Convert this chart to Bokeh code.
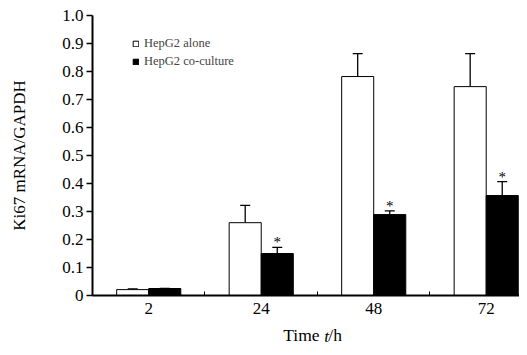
import numpy as np
from bokeh.plotting import figure
from bokeh.models import (ColumnDataSource, Whisker, TeeHead, FixedTicker, Range1d,
                          Label, Legend, LegendItem)
from bokeh.core.properties import value
from bokeh.embed import file_html
from bokeh.resources import INLINE

categories = ["2", "24", "48", "72"]
alone = [0.021, 0.26, 0.782, 0.746]
alone_err = [0.003, 0.062, 0.082, 0.118]
cocult = [0.025, 0.15, 0.289, 0.357]
cocult_err = [0.0, 0.022, 0.013, 0.05]
significant = [False, True, True, True]
y_ticks = [0, 0.1, 0.2, 0.3, 0.4, 0.5, 0.6, 0.7, 0.8, 0.9, 1.0]
y_tick_labels = ["0", "0.1", "0.2", "0.3", "0.4", "0.5", "0.6", "0.7", "0.8", "0.9", "1.0"]
x_title_left = "Time"
x_title_italic = "t"
x_title_right = "/h"

FONT = "Liberation Serif"
NB = "\u00a0"
bw = 0.285
centers = np.arange(len(categories)) + 0.5
x_a = centers - bw / 2
x_c = centers + bw / 2

src_a = ColumnDataSource(dict(x=x_a, top=alone, up=np.array(alone) + np.array(alone_err)))
src_c = ColumnDataSource(dict(x=x_c, top=cocult, up=np.array(cocult) + np.array(cocult_err)))
star_idx = [i for i, s in enumerate(significant) if s]
src_s = ColumnDataSource(dict(x=x_c[star_idx], y=(np.array(cocult) + np.array(cocult_err))[star_idx],
                              t=["*"] * len(star_idx)))

p = figure(width=519, height=347, output_backend="svg", toolbar_location=None,
           x_range=Range1d(0, 3.796), y_range=Range1d(0, 1.0),
           min_border_left=92, min_border_right=0, min_border_top=15, min_border_bottom=52)
p.outline_line_color = None
p.grid.visible = False

wa = Whisker(source=src_a, base="x", upper="up", lower="top", dimension="height",
             line_color="black", line_width=1.3,
             upper_head=TeeHead(size=10, line_color="black", line_width=1.3), lower_head=None)
wc = Whisker(source=src_c, base="x", upper="up", lower="top", dimension="height",
             line_color="black", line_width=1.3,
             upper_head=TeeHead(size=10, line_color="black", line_width=1.3), lower_head=None)
p.add_layout(wa)
p.add_layout(wc)

ra = p.vbar(x="x", top="top", width=bw, bottom=0, source=src_a, fill_color="white",
            line_color="black", line_width=1)
rc = p.vbar(x="x", top="top", width=bw, bottom=0, source=src_c, fill_color="black",
            line_color="black", line_width=1)

p.text(x="x", y="y", text="t", source=src_s, text_align="center", text_baseline="bottom",
       y_offset=3, text_font=value(FONT), text_font_size="15px", text_color="black")

# x axis
p.xaxis.ticker = FixedTicker(ticks=list(centers), minor_ticks=[1, 2, 3])
p.xaxis.major_label_overrides = {float(c): lab for c, lab in zip(centers, categories)}
p.xaxis.major_tick_in = 0
p.xaxis.major_tick_out = 0
p.xaxis.minor_tick_in = 4
p.xaxis.minor_tick_out = 0
p.xaxis.minor_tick_line_color = "black"
p.xaxis.axis_line_width = 2
p.xaxis.axis_line_color = "black"
p.xaxis.major_label_standoff = 7
p.xaxis.major_label_text_font = FONT
p.xaxis.major_label_text_font_size = "17px"
p.xaxis.major_label_text_color = "black"
# axis title: upright parts, with room left for the italic "t"
p.xaxis.axis_label = NB * 3 + x_title_left + NB * 2 + x_title_right
p.xaxis.axis_label_text_font = FONT
p.xaxis.axis_label_text_font_style = "normal"
p.xaxis.axis_label_text_font_size = "17.5px"
p.xaxis.axis_label_text_color = "black"
p.xaxis.axis_label_standoff = 8

# y axis
p.yaxis.ticker = FixedTicker(ticks=y_ticks)
p.yaxis.major_label_overrides = {t: l for t, l in zip(y_ticks, y_tick_labels)}
p.yaxis.minor_tick_line_color = None
p.yaxis.major_tick_in = 0
p.yaxis.major_tick_out = 6
p.yaxis.major_tick_line_width = 1.5
p.yaxis.axis_line_width = 2
p.yaxis.axis_line_color = "black"
p.yaxis.major_label_standoff = 3
p.yaxis.major_label_text_font = FONT
p.yaxis.major_label_text_font_size = "17px"
p.yaxis.major_label_text_color = "black"
p.yaxis.axis_label = "Ki67 mRNA/GAPDH"
p.yaxis.axis_label_text_font = FONT
p.yaxis.axis_label_text_font_style = "normal"
p.yaxis.axis_label_text_font_size = "17px"
p.yaxis.axis_label_text_color = "black"
p.yaxis.axis_label_standoff = 30

# italic "t" of the x title (side panel so it is not clipped by the frame)
p.add_layout(Label(text=x_title_italic, x=2.0, y=-0.146, x_units="data", y_units="data",
                   x_offset=6.7, text_align="left", text_baseline="alphabetic",
                   text_font=FONT, text_font_size="17.5px", text_font_style="italic",
                   text_color="black"), "left")

legend = Legend(items=[LegendItem(label="HepG2 alone", renderers=[ra]),
                       LegendItem(label="HepG2 co-culture", renderers=[rc])],
                location=(40, 225), glyph_width=7, glyph_height=7, label_standoff=5,
                label_height=18, spacing=0, padding=0, margin=0,
                label_text_font=FONT, label_text_font_size="12.5px",
                border_line_color=None, background_fill_alpha=0)
p.add_layout(legend)

open("out.html", "w").write(file_html(p, INLINE))
